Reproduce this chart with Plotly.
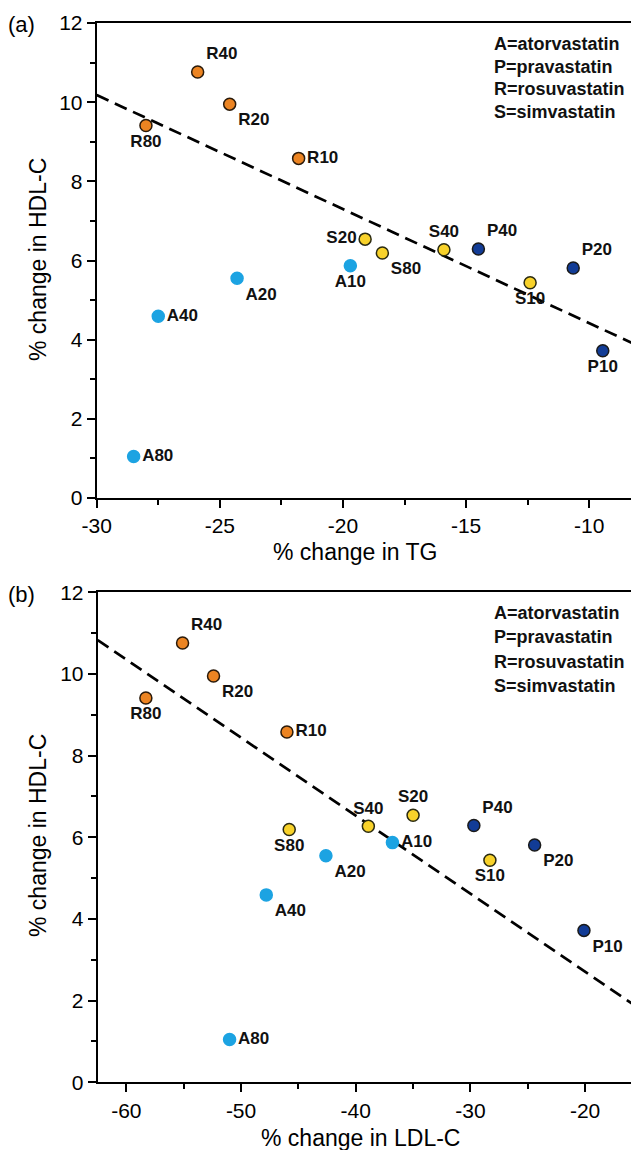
import plotly.graph_objects as go

# ---- data ----
labels = ["R40", "R20", "R80", "R10", "A20", "A40", "A80", "A10",
          "S20", "S80", "S40", "S10", "P40", "P20", "P10"]
hdl_change = [10.76, 9.95, 9.41, 8.58, 5.55, 4.59, 1.05, 5.87,
              6.54, 6.19, 6.27, 5.44, 6.29, 5.81, 3.72]
tg_change = [-25.9, -24.6, -28.0, -21.8, -24.3, -27.5, -28.5, -19.7,
             -19.1, -18.4, -15.9, -12.4, -14.5, -10.65, -9.45]
ldl_change = [-55.1, -52.4, -58.3, -46.0, -42.6, -47.8, -51.0, -36.8,
              -35.0, -45.8, -38.9, -28.3, -29.7, -24.4, -20.1]

# dashed trend lines (end points)
trend_tg = [-30.0, -8.1]
trend_hdl_a = [10.18, 3.87]
trend_ldl = [-62.5, -15.3]
trend_hdl_b = [10.83, 1.81]

# tick values / labels
tg_ticks = [-30, -25, -20, -15, -10]
tg_ticktext = ["-30", "-25", "-20", "-15", "-10"]
ldl_ticks = [-60, -50, -40, -30, -20]
ldl_ticktext = ["-60", "-50", "-40", "-30", "-20"]
hdl_ticks = [0, 2, 4, 6, 8, 10, 12]
hdl_ticktext = ["0", "2", "4", "6", "8", "10", "12"]

legend_lines = ["A=atorvastatin", "P=pravastatin", "R=rosuvastatin", "S=simvastatin"]

pos_a = ["top right", "bottom right", "bottom center", "middle right", "bottom right",
         "middle right", "middle right", "bottom center", "middle left", "bottom right",
         "top center", "bottom center", "top right", "top right", "bottom center"]
pos_b = ["top right", "bottom right", "bottom center", "middle right", "bottom right",
         "bottom right", "middle right", "middle right", "top center", "bottom center",
         "top center", "bottom center", "top right", "bottom right", "bottom right"]

fill = {"A": "#1CA3E2", "P": "#123C96", "R": "#EC8422", "S": "#F8D22A"}
edge = {"A": "#1CA3E2", "P": "#1a1a1a", "R": "#2a1a0a", "S": "#2a2a10"}

FONT = "Liberation Sans, Arial, sans-serif"
OFF = 8                 # page body margin of the html page
W, H = 639 - OFF, 1150 - OFF

fig = go.Figure()

def add_panel(xvals, trend_x, trend_y, positions, xa, ya):
    fig.add_trace(go.Scatter(
        x=trend_x, y=trend_y, mode="lines",
        line=dict(color="black", width=2.7, dash="13px,7px"),
        xaxis=xa, yaxis=ya, showlegend=False, hoverinfo="skip"))
    for g in ["A", "P", "R", "S"]:
        idx = [i for i, l in enumerate(labels) if l[0] == g]
        fig.add_trace(go.Scatter(
            x=[xvals[i] for i in idx], y=[hdl_change[i] for i in idx],
            text=[labels[i] for i in idx],
            textposition=[positions[i] for i in idx],
            mode="markers+text",
            marker=dict(size=12, color=fill[g], line=dict(color=edge[g], width=1.5)),
            textfont=dict(family=FONT, size=17, color="#111111", weight="bold"),
            xaxis=xa, yaxis=ya, showlegend=False, cliponaxis=False))

add_panel(tg_change, trend_tg, trend_hdl_a, pos_a, "x", "y")
add_panel(ldl_change, trend_ldl, trend_hdl_b, pos_b, "x2", "y2")

def px_x(p):
    return (p - OFF) / W

def px_y(p):
    return 1 - (p - OFF) / H

tick_font = dict(family=FONT, size=21, color="black")
axis_common = dict(showline=True, linecolor="black", linewidth=2, ticks="outside",
                   ticklen=8, tickwidth=2, tickcolor="black", tickfont=tick_font,
                   showgrid=False, zeroline=False, automargin=False)
minor_common = dict(ticks="outside", ticklen=5, tickwidth=2, tickcolor="black")

fig.update_layout(
    width=W, height=H,
    margin=dict(l=0, r=0, t=0, b=0, autoexpand=False),
    paper_bgcolor="white", plot_bgcolor="white",
    xaxis=dict(domain=[px_x(96.7), px_x(636)], range=[-30, -8.1], anchor="y",
               tickvals=tg_ticks, ticktext=tg_ticktext, mirror=True,
               minor=dict(dtick=2.5, tick0=-30, **minor_common), **axis_common),
    yaxis=dict(domain=[px_y(498), px_y(23)], range=[0, 12], anchor="x",
               tickvals=hdl_ticks, ticktext=hdl_ticktext, mirror=True,
               minor=dict(dtick=1, tick0=0, **minor_common), **axis_common),
    xaxis2=dict(domain=[px_x(97.7), 1.0], range=[-62.5, -15.3], anchor="y2",
                tickvals=ldl_ticks, ticktext=ldl_ticktext, mirror=True,
                minor=dict(dtick=5, tick0=-60, **minor_common), **axis_common),
    yaxis2=dict(domain=[px_y(1082.3), px_y(592.3)], range=[0, 12], anchor="x2",
                tickvals=hdl_ticks, ticktext=hdl_ticktext, mirror=False,
                minor=dict(dtick=1, tick0=0, **minor_common), **axis_common),
)

ann = []
title_font = dict(family=FONT, size=23, color="black")
ann.append(dict(text="% change in TG", x=px_x(355), y=px_y(552), xref="paper", yref="paper",
                showarrow=False, font=title_font, xanchor="center", yanchor="middle"))
ann.append(dict(text="% change in LDL-C", x=px_x(360), y=px_y(1138), xref="paper", yref="paper",
                showarrow=False, font=title_font, xanchor="center", yanchor="middle"))
ann.append(dict(text="% change in HDL-C", x=px_x(38), y=px_y(260), xref="paper", yref="paper",
                showarrow=False, font=title_font, textangle=-90, xanchor="center", yanchor="middle"))
ann.append(dict(text="% change in HDL-C", x=px_x(38), y=px_y(836), xref="paper", yref="paper",
                showarrow=False, font=title_font, textangle=-90, xanchor="center", yanchor="middle"))
ann.append(dict(text="(a)", x=px_x(6), y=px_y(25), xref="paper", yref="paper",
                showarrow=False, font=dict(family=FONT, size=22, color="black"),
                xanchor="left", yanchor="middle"))
ann.append(dict(text="(b)", x=px_x(6), y=px_y(594), xref="paper", yref="paper",
                showarrow=False, font=dict(family=FONT, size=22, color="black"),
                xanchor="left", yanchor="middle"))
leg_font = dict(family=FONT, size=18, color="#111111", weight="bold")
for i, t in enumerate(legend_lines):
    ann.append(dict(text=t, x=px_x(492), y=px_y(44 + 22.7 * i), xref="paper", yref="paper",
                    showarrow=False, font=leg_font, xanchor="left", yanchor="middle"))
    ann.append(dict(text=t, x=px_x(492), y=px_y(613 + 24.3 * i), xref="paper", yref="paper",
                    showarrow=False, font=leg_font, xanchor="left", yanchor="middle"))
fig.update_layout(annotations=ann)

fig.write_html("out.html")
